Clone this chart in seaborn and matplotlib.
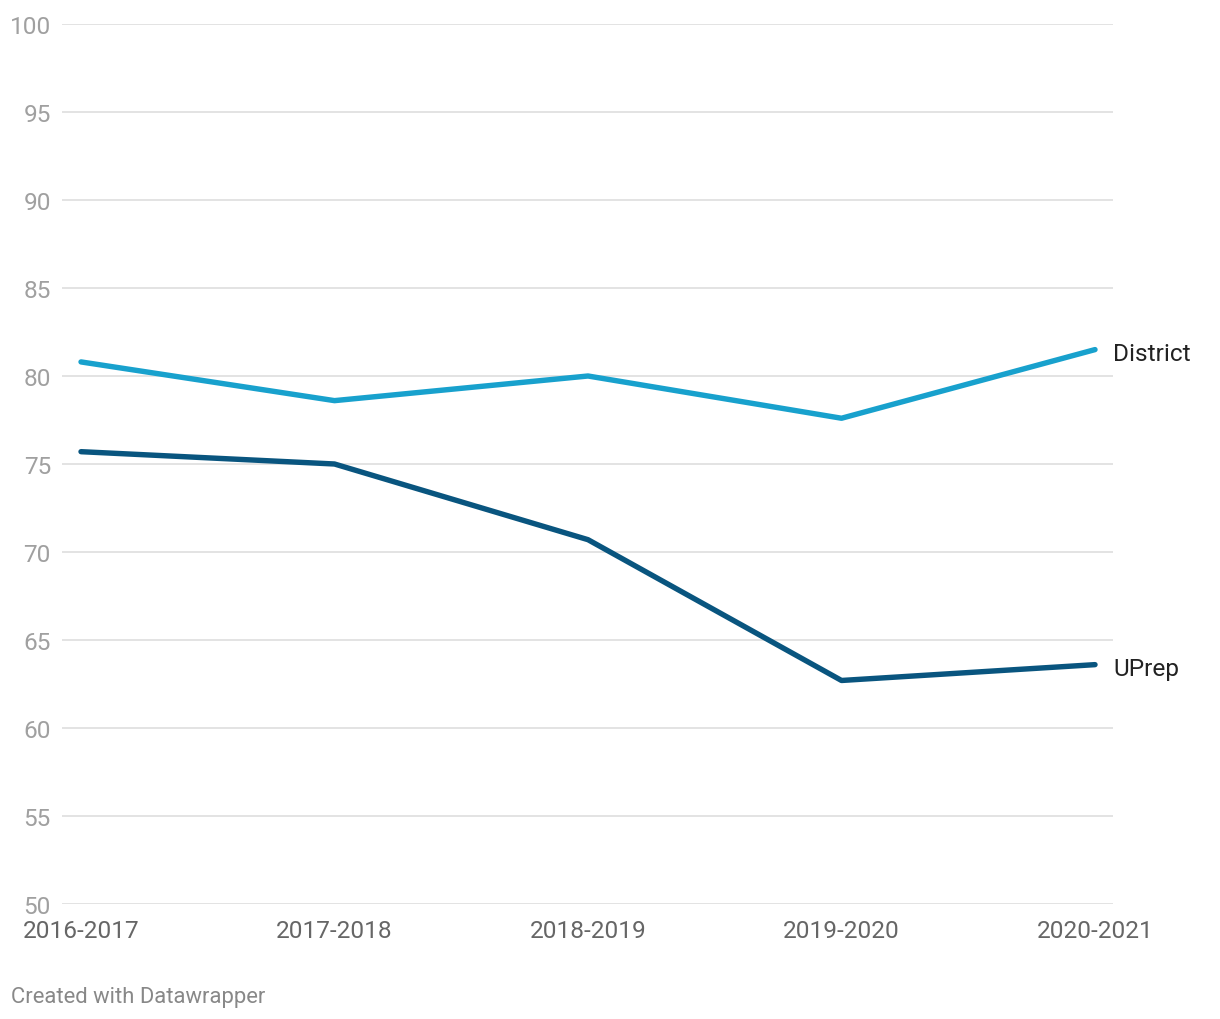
import matplotlib
matplotlib.use("Agg")
import matplotlib.pyplot as plt
import seaborn as sns
import pandas as pd

years = ["2016-2017", "2017-2018", "2018-2019", "2019-2020", "2020-2021"]
district = [80.8, 78.6, 80.0, 77.6, 81.5]
uprep = [75.7, 75.0, 70.7, 62.7, 63.6]
yticks = [50, 55, 60, 65, 70, 75, 80, 85, 90, 95, 100]

sns.set_theme(style="white")
plt.rcParams['font.family'] = ['Roboto', 'DejaVu Sans']

df = pd.DataFrame({
    "year": years * 2,
    "x": list(range(len(years))) * 2,
    "value": district + uprep,
    "series": ["District"] * len(years) + ["UPrep"] * len(years),
})
palette = {"District": "#18a1cd", "UPrep": "#09557f"}

fig = plt.figure(figsize=(12.2, 10.2), dpi=100)
ax = fig.add_axes([62/1220, 1 - 905/1020, (1113-62)/1220, (905-25)/1020])

sns.lineplot(data=df, x="x", y="value", hue="series", palette=palette,
             linewidth=3.9, ax=ax, legend=False, solid_capstyle="round")

ax.set_xlim(-0.075, 4.071)
ax.set_ylim(50, 100)
ax.set_yticks(yticks)
ax.set_yticklabels([str(t) for t in yticks])
ax.set_xticks(range(len(years)))
ax.set_xticklabels(years)
ax.yaxis.grid(True, color="#e1e1e1", linewidth=1.3)
ax.xaxis.grid(False)
ax.set_axisbelow(True)
for s in ax.spines.values():
    s.set_visible(False)
ax.tick_params(axis="y", length=0, pad=8, labelsize=17.6, labelcolor="#a0a0a0")
ax.tick_params(axis="x", length=0, pad=11, labelsize=17.6, labelcolor="#666666")
ax.set_xlabel("")
ax.set_ylabel("")

for name, vals in [("District", district), ("UPrep", uprep)]:
    ax.annotate(name, xy=(len(years) - 1, vals[-1]), xytext=(18, -4),
                textcoords="offset pixels", ha="left", va="center",
                fontsize=17.6, color="#222222")

fig.text(11/1220, 1 - 998/1020, "Created with Datawrapper", ha="left", va="center",
         fontsize=15.8, color="#888888")

fig.savefig("out.png", dpi=100, facecolor="white")
